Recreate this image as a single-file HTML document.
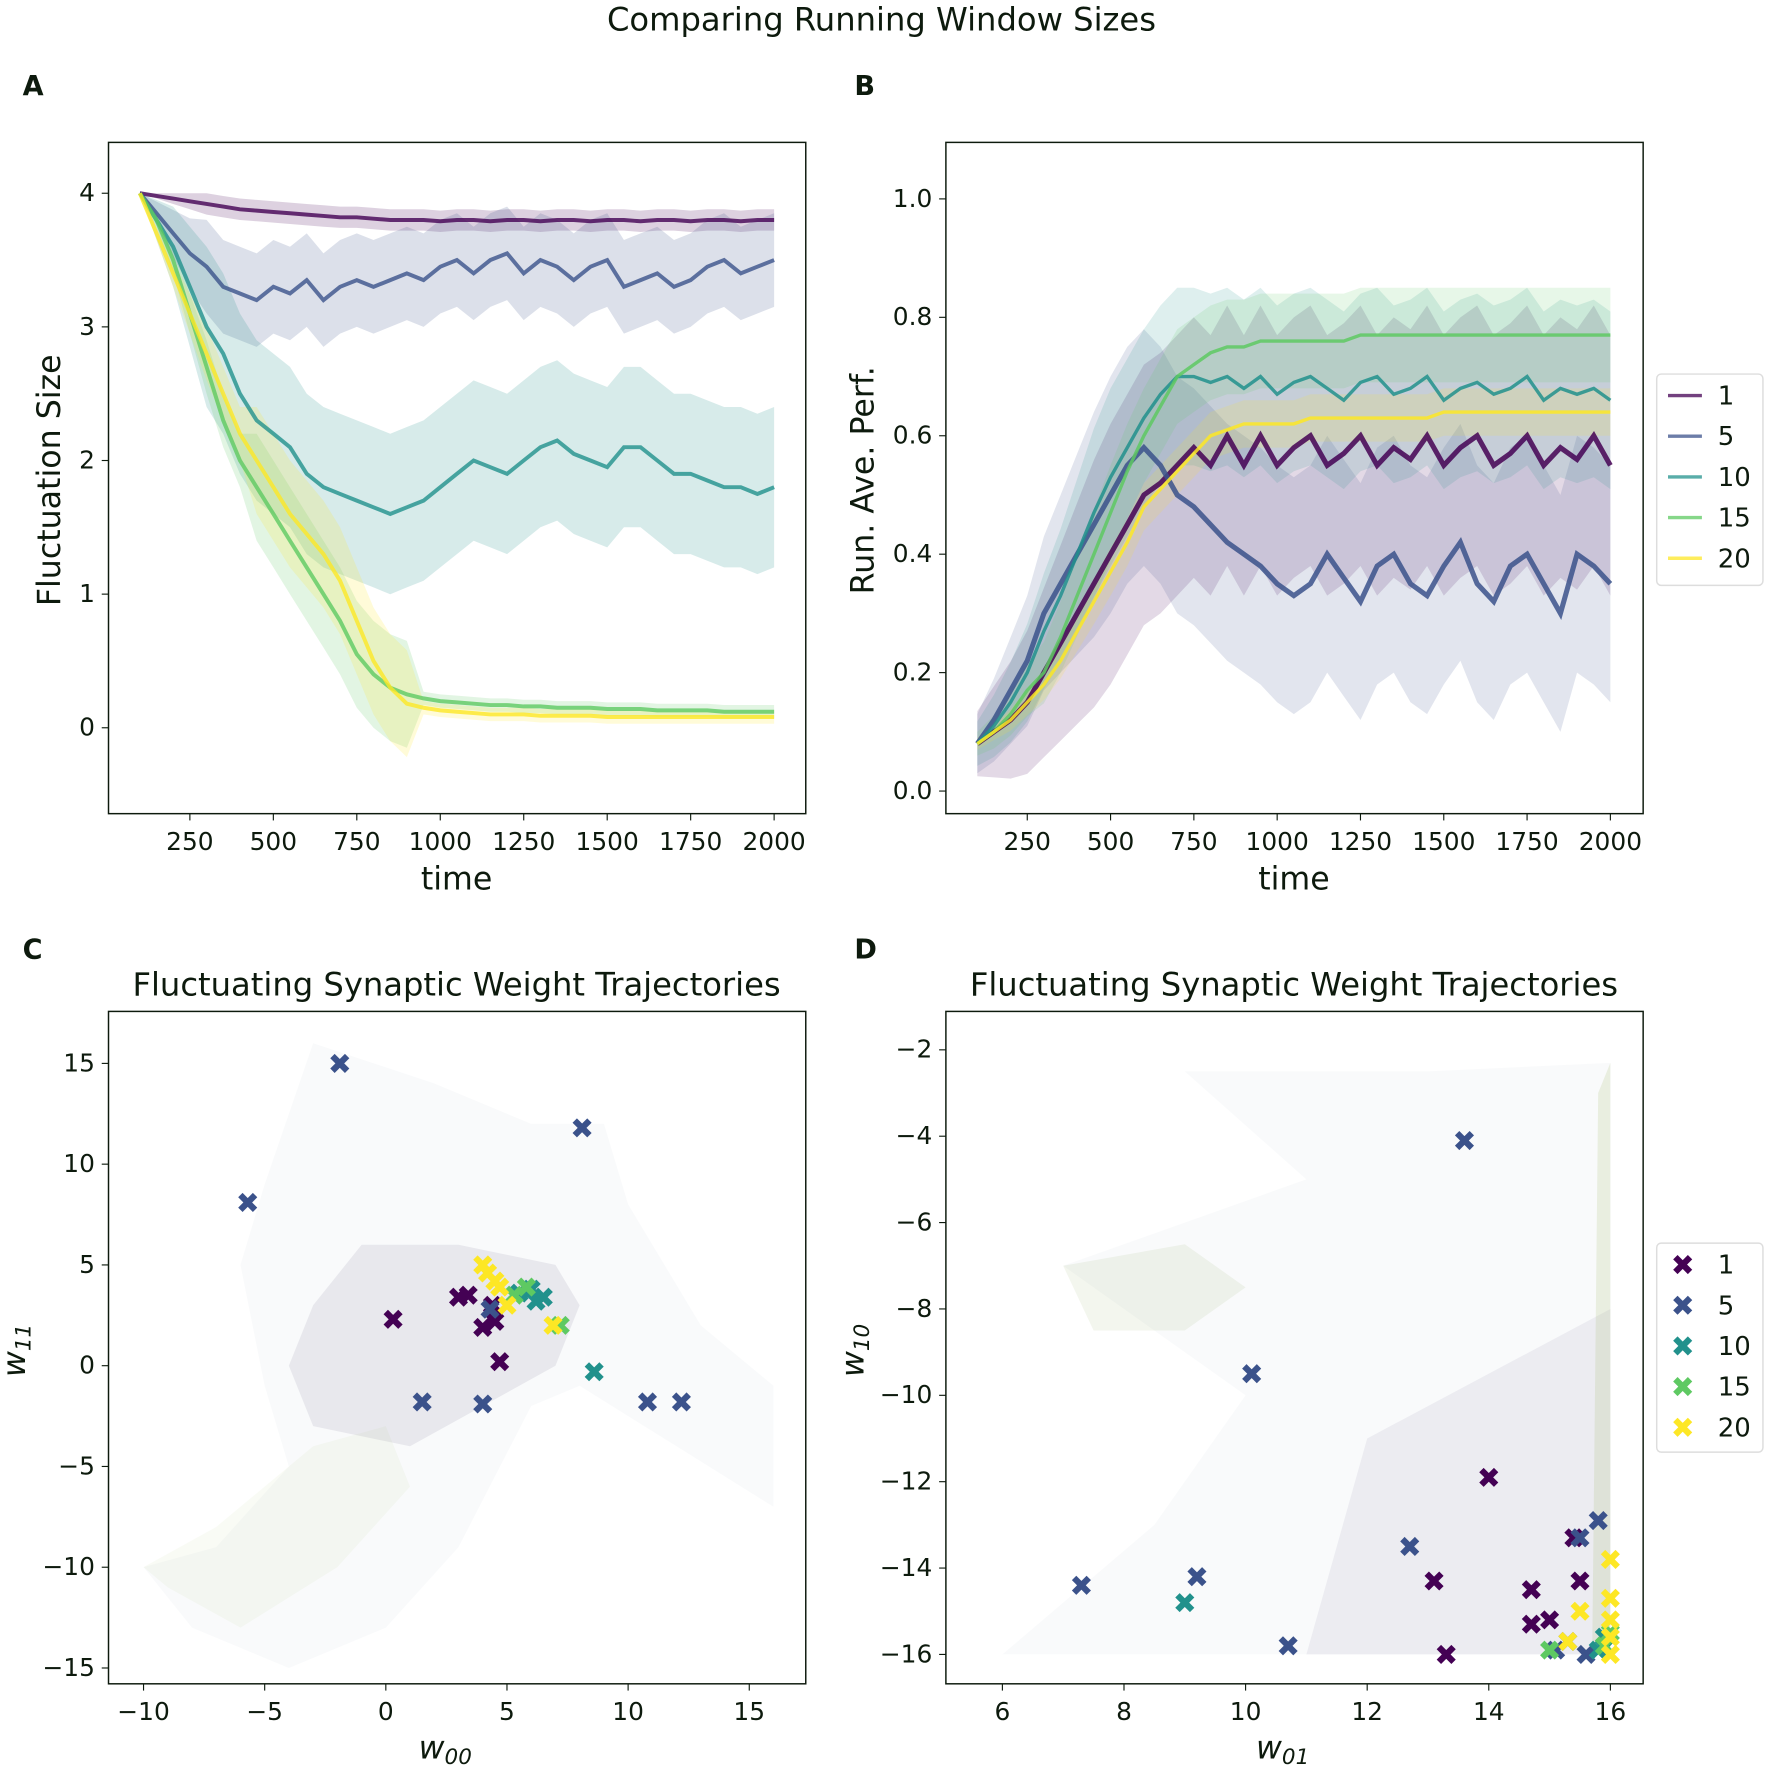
<!DOCTYPE html>
<html><head><meta charset="utf-8"><style>
html,body{margin:0;padding:0;background:#fff;width:1772px;height:1768px;overflow:hidden}
svg{display:block}
text{font-family:"DejaVu Sans","Liberation Sans",sans-serif;fill:#0d1a0d}
</style></head><body>
<svg id="fig" width="1772" height="1768" viewBox="0 0 1568 1564.5" xmlns="http://www.w3.org/2000/svg"></svg>
<script>
// ---------- data ----------
const times = [];
for (let t = 100; t <= 2000; t += 50) times.push(t);
const seriesNames = ["1","5","10","15","20"];
const colors = ["#440154","#3b528b","#21918c","#5ec962","#fde725"];

const fluct1 = [4.0,3.98,3.96,3.94,3.92,3.9,3.88,3.87,3.86,3.85,3.84,3.83,3.82,3.82,3.81,3.8,3.8,3.8,3.79,3.8,3.8,3.79,3.8,3.8,3.79,3.8,3.8,3.79,3.8,3.8,3.79,3.8,3.8,3.79,3.8,3.8,3.79,3.8,3.8];
const fluct5 = [4.0,3.85,3.7,3.55,3.45,3.3,3.25,3.2,3.3,3.25,3.35,3.2,3.3,3.35,3.3,3.35,3.4,3.35,3.45,3.5,3.4,3.5,3.55,3.4,3.5,3.45,3.35,3.45,3.5,3.3,3.35,3.4,3.3,3.35,3.45,3.5,3.4,3.45,3.5];
const fluct10 = [4.0,3.8,3.6,3.3,3.0,2.8,2.5,2.3,2.2,2.1,1.9,1.8,1.75,1.7,1.65,1.6,1.65,1.7,1.8,1.9,2.0,1.95,1.9,2.0,2.1,2.15,2.05,2.0,1.95,2.1,2.1,2.0,1.9,1.9,1.85,1.8,1.8,1.75,1.8];
const fluct15 = [4.0,3.8,3.5,3.1,2.7,2.3,2.0,1.8,1.6,1.4,1.2,1.0,0.8,0.55,0.4,0.3,0.25,0.22,0.2,0.19,0.18,0.17,0.17,0.16,0.16,0.15,0.15,0.15,0.14,0.14,0.14,0.13,0.13,0.13,0.13,0.12,0.12,0.12,0.12];
const fluct20 = [4.0,3.7,3.4,3.1,2.8,2.5,2.2,2.0,1.8,1.6,1.45,1.3,1.1,0.8,0.5,0.3,0.18,0.15,0.13,0.12,0.11,0.1,0.1,0.1,0.09,0.09,0.09,0.09,0.08,0.08,0.08,0.08,0.08,0.08,0.08,0.08,0.08,0.08,0.08];
const fluctSpread = [0.08,0.35,0.6,0.35,0.35];

const perf1 = [0.08,0.1,0.12,0.15,0.2,0.25,0.3,0.35,0.4,0.45,0.5,0.52,0.55,0.58,0.55,0.6,0.55,0.6,0.55,0.58,0.6,0.55,0.57,0.6,0.55,0.58,0.56,0.6,0.55,0.58,0.6,0.55,0.57,0.6,0.55,0.58,0.56,0.6,0.55];
const perf5 = [0.08,0.12,0.17,0.22,0.3,0.35,0.4,0.45,0.5,0.55,0.58,0.55,0.5,0.48,0.45,0.42,0.4,0.38,0.35,0.33,0.35,0.4,0.36,0.32,0.38,0.4,0.35,0.33,0.38,0.42,0.35,0.32,0.38,0.4,0.35,0.3,0.4,0.38,0.35];
const perf10 = [0.08,0.11,0.15,0.2,0.27,0.33,0.4,0.47,0.53,0.58,0.63,0.67,0.7,0.7,0.69,0.7,0.68,0.7,0.67,0.69,0.7,0.68,0.66,0.69,0.7,0.67,0.68,0.7,0.66,0.68,0.69,0.67,0.68,0.7,0.66,0.68,0.67,0.68,0.66];
const perf15 = [0.08,0.1,0.13,0.17,0.2,0.26,0.33,0.4,0.47,0.54,0.6,0.65,0.7,0.72,0.74,0.75,0.75,0.76,0.76,0.76,0.76,0.76,0.76,0.77,0.77,0.77,0.77,0.77,0.77,0.77,0.77,0.77,0.77,0.77,0.77,0.77,0.77,0.77,0.77];
const perf20 = [0.08,0.1,0.12,0.15,0.18,0.22,0.27,0.32,0.37,0.42,0.48,0.51,0.54,0.57,0.6,0.61,0.62,0.62,0.62,0.62,0.63,0.63,0.63,0.63,0.63,0.63,0.63,0.63,0.64,0.64,0.64,0.64,0.64,0.64,0.64,0.64,0.64,0.64,0.64];
const perfSpread = [0.22,0.2,0.15,0.08,0.04];

const xTicksA = [250,500,750,1000,1250,1500,1750,2000];
const yTicksA = [0,1,2,3,4];
const yTicksB = [0.0,0.2,0.4,0.6,0.8,1.0];
const xTicksC = [-10,-5,0,5,10,15];
const yTicksC = [-15,-10,-5,0,5,10,15];
const xTicksD = [6,8,10,12,14,16];
const yTicksD = [-16,-14,-12,-10,-8,-6,-4,-2];

const cX1 = [0.3,3.0,3.4,4.0,4.5,4.7,4.4];
const cY1 = [2.3,3.4,3.5,1.9,2.2,0.2,3.0];
const cX5 = [-1.9,8.1,-5.7,1.5,4.0,10.8,12.2,4.3];
const cY5 = [15,11.8,8.1,-1.8,-1.9,-1.8,-1.8,2.8];
const cX10 = [8.6,6.5,6.0,5.5,6.2];
const cY10 = [-0.3,3.4,3.8,3.6,3.2];
const cX15 = [7.2,5.3,5.8];
const cY15 = [2.0,3.5,3.9];
const cX20 = [4.0,4.2,6.9,4.5,5.0,4.7];
const cY20 = [5.0,4.6,2.0,4.2,3.0,3.9];

const dX1 = [14.0,13.1,13.3,14.7,14.7,15.0,15.5,15.4];
const dY1 = [-11.9,-14.3,-16,-14.5,-15.3,-15.2,-14.3,-13.3];
const dX5 = [13.6,10.1,7.3,9.2,10.7,12.7,15.3,15.1,15.6,15.5,15.8];
const dY5 = [-4.1,-9.5,-14.4,-14.2,-15.8,-13.5,-15.7,-15.9,-16,-13.3,-12.9];
const dX10 = [9.0,15.8,15.9];
const dY10 = [-14.8,-15.9,-15.6];
const dX15 = [15.0,15.9,16];
const dY15 = [-15.9,-15.8,-15.5];
const dX20 = [16,16,16,16,16,15.5,15.3];
const dY20 = [-13.8,-14.7,-15.2,-15.6,-16,-15.0,-15.7];

// ---------- drawing ----------
const NS = "http://www.w3.org/2000/svg";
const svg = document.getElementById("fig");
function mk(tag, attrs, parent) {
  const e = document.createElementNS(NS, tag);
  for (const k in attrs) e.setAttribute(k, attrs[k]);
  (parent || svg).appendChild(e);
  return e;
}
function txt(s, x, y, size, anchor, parent, extra) {
  const t = mk("text", Object.assign({x: x, y: y, "font-size": size, "text-anchor": anchor || "middle"}, extra || {}), parent);
  t.textContent = s;
  return t;
}
function lin(d0, d1, p0, p1) { return v => p0 + (v - d0) * (p1 - p0) / (d1 - d0); }

function axesBox(g, L, T, R, B) {
  const r = mk("rect", {x: L, y: T, width: R - L, height: B - T, fill: "none", stroke: "#0d1a0d", "stroke-width": 1.3}, g);
  
  
}
function xTicks(g, ticks, sx, B, fmt) {
  ticks.forEach(v => {
    mk("line", {x1: sx(v), x2: sx(v), y1: B, y2: B + 6, stroke: "#0d1a0d", "stroke-width": 1}, g);
    const t = txt(fmt ? fmt(v) : String(v).replace("-", "\u2212"), sx(v), B + 32, 22, "middle", g);
    
    
  });
}
function yTicks(g, ticks, sy, L, fmt) {
  ticks.forEach(v => {
    mk("line", {x1: L - 6, x2: L, y1: sy(v), y2: sy(v), stroke: "#0d1a0d", "stroke-width": 1}, g);
    const t = txt(fmt ? fmt(v) : String(v).replace("-", "\u2212"), L - 12, sy(v) + 7, 22, "end", g);
    
    
  });
}
function linePath(xs, ys, sx, sy) {
  return xs.map((x, i) => (i ? "L" : "M") + sx(x).toFixed(1) + "," + sy(ys[i]).toFixed(1)).join("");
}
function bandPath(xs, lo, hi, sx, sy) {
  let d = xs.map((x, i) => (i ? "L" : "M") + sx(x).toFixed(1) + "," + sy(hi[i]).toFixed(1)).join("");
  for (let i = xs.length - 1; i >= 0; i--) d += "L" + sx(xs[i]).toFixed(1) + "," + sy(lo[i]).toFixed(1);
  return d + "Z";
}
function xMarker(g, x, y, color) {
  const s = 6.5;
  return mk("path", {d: `M${x-s},${y-s}L${x+s},${y+s}M${x-s},${y+s}L${x+s},${y-s}`, stroke: color, "stroke-width": 5.5}, g);
}

// title
const title = txt("Comparing Running Window Sizes", 780, 27, 28.5, "middle");


[["A",20,84],["B",756,84],["C",20,848],["D",756,848]].forEach(a => {
  const t = txt(a[0], a[1], a[2], 24, "start", svg, {"font-weight": "bold"});
  
  
});

// Panel A
(function () {
  const g = mk("g", {});
  
  
  const L = 96, R = 713, T = 126, B = 720;
  const sx = lin(250, 2000, 168, 685), sy = lin(0, 4, 644, 171);
  const data = [fluct1, fluct5, fluct10, fluct15, fluct20];
  data.forEach((ys, k) => {
    const spAt = i => {
      let s = fluctSpread[k] * Math.min(1, i / 4);
      if (k >= 3) { const t = times[i]; s = (t >= 450 && t <= 900) ? 0.4 : (t > 900 ? 0.05 : 0.2 * Math.min(1, i / 4)); }
      return s;
    };
    const lo = ys.map((v, i) => v - spAt(i));
    const hi = ys.map((v, i) => v + spAt(i));
    const b = mk("path", {d: bandPath(times, lo, hi, sx, sy), fill: colors[k], "fill-opacity": 0.18, stroke: "none"}, g);
    
    
  });
  data.forEach((ys, k) => {
    const p = mk("path", {d: linePath(times, ys, sx, sy), fill: "none", stroke: colors[k], "stroke-width": 3.5, "stroke-opacity": 0.8}, g);
    
    
  });
  axesBox(g, L, T, R, B);
  xTicks(g, xTicksA, sx, B);
  yTicks(g, yTicksA, sy, L);
  const xl = txt("time", 404, 787, 28, "middle", g);
  
  
  const yl = txt("Fluctuation Size", 0, 0, 28, "middle", g, {transform: "translate(53,425) rotate(-90)"});
  
  
})();

// Panel B
(function () {
  const g = mk("g", {});
  
  
  const L = 837, R = 1454, T = 126, B = 720;
  const sx = lin(250, 2000, 909, 1425), sy = lin(0, 1, 700, 176);
  const data = [perf1, perf5, perf10, perf15, perf20];
  data.forEach((ys, k) => {
    const sp = perfSpread[k];
    const lo = ys.map((v, i) => v - sp * Math.min(1, 0.25 + i / 10));
    const hi = ys.map((v, i) => v + sp * Math.min(1, 0.25 + i / 10));
    const b = mk("path", {d: bandPath(times, lo, hi, sx, sy), fill: colors[k], "fill-opacity": 0.15, stroke: "none"}, g);
    
    
  });
  data.forEach((ys, k) => {
    const p = mk("path", {d: linePath(times, ys, sx, sy), fill: "none", stroke: colors[k], "stroke-width": k < 2 ? 4.5 : 3, "stroke-opacity": 0.85}, g);
    
    
  });
  axesBox(g, L, T, R, B);
  xTicks(g, xTicksA, sx, B);
  yTicks(g, yTicksB, sy, L, v => v.toFixed(1));
  const xl = txt("time", 1145, 787, 28, "middle", g);
  
  
  const yl = txt("Run. Ave. Perf.", 0, 0, 28, "middle", g, {transform: "translate(773,425) rotate(-90)"});
  
  
  const lg = mk("g", {}, g);
  
  
  mk("rect", {x: 1466, y: 331, width: 94, height: 187, rx: 4, fill: "#fff", stroke: "#ddd", "stroke-width": 1.3}, lg);
  seriesNames.forEach((n, k) => {
    const y = 350 + k * 36;
    const e = mk("g", {}, lg);
    
    
    mk("line", {x1: 1476, x2: 1506, y1: y, y2: y, stroke: colors[k], "stroke-width": 3, "stroke-opacity": 0.75}, e);
    txt(n, 1520, y + 8, 23, "start", e);
  });
})();

function cloud(g, sx, sy, pts, color, op) {
  const d = pts.map((p, i) => (i ? "L" : "M") + sx(p[0]).toFixed(1) + "," + sy(p[1]).toFixed(1)).join("") + "Z";
  mk("path", {d: d, fill: color, "fill-opacity": op, stroke: "none"}, g);
}

// Panel C
(function () {
  const g = mk("g", {});
  
  
  const L = 96, R = 713, T = 895, B = 1490;
  const sx = lin(-10, 15, 127, 663), sy = lin(-15, 15, 1476, 941);
  const cg = mk("g", {}, g);
  
  
  cloud(cg, sx, sy, [[-3,16],[2,14],[6,12],[9,12],[10,8],[13,2],[16,-1],[16,-7],[12,-4],[8,-1],[6,-2],[3,-9],[0,-13],[-4,-15],[-8,-13],[-10,-10],[-7,-9],[-4,-5],[-5,-1],[-6,5],[-5,9]], "#9098b0", 0.05);
  cloud(cg, sx, sy, [[-1,6],[3,6],[7,5],[8,3],[7,0],[4,-2],[1,-4],[-3,-3],[-4,0],[-3,3]], "#5a4a7a", 0.1);
  cloud(cg, sx, sy, [[-10,-10],[-7,-8],[-3,-4],[0,-3],[1,-6],[-2,-10],[-6,-13],[-9,-11]], "#a8c078", 0.07);
  axesBox(g, L, T, R, B);
  xTicks(g, xTicksC, sx, B);
  yTicks(g, yTicksC, sy, L);
  const xs = [cX1, cX5, cX10, cX15, cX20], ys = [cY1, cY5, cY10, cY15, cY20];
  xs.forEach((arr, k) => arr.forEach((x, i) => {
    const m = xMarker(g, sx(x), sy(ys[k][i]), colors[k]);
    
    
  }));
  const t = txt("Fluctuating Synaptic Weight Trajectories", 404, 881, 28.5, "middle", g);
  
  
  const xl = txt("w", 394, 1556, 28, "middle", g, {"font-style": "italic"});
  
  
  const xs1 = mk("tspan", {"font-size": 19, dy: 5}, xl); xs1.textContent = "00";
  const yl = txt("w", 0, 0, 28, "middle", g, {transform: "translate(22,1195) rotate(-90)", "font-style": "italic"});
  
  
  const ys1 = mk("tspan", {"font-size": 19, dy: 5}, yl); ys1.textContent = "11";
})();

// Panel D
(function () {
  const g = mk("g", {});
  
  
  const L = 837, R = 1454, T = 895, B = 1490;
  const sx = lin(6, 16, 887, 1425), sy = lin(-2, -16, 929, 1464);
  const cg = mk("g", {}, g);
  
  
  cloud(cg, sx, sy, [[9,-2.5],[13,-2.5],[16,-2.3],[16,-16],[6,-16],[8.5,-13],[10,-10],[7,-7],[9,-6],[11,-5]], "#9098b0", 0.05);
  cloud(cg, sx, sy, [[7,-7],[9,-6.5],[10,-7.5],[9,-8.5],[7.5,-8.5]], "#a0b870", 0.12);
  cloud(cg, sx, sy, [[12,-11],[16,-8],[16,-16],[11,-16]], "#5a4a7a", 0.08);
  cloud(cg, sx, sy, [[15.8,-3],[16,-2.3],[16,-16],[15.7,-16]], "#a8c078", 0.2);
  axesBox(g, L, T, R, B);
  xTicks(g, xTicksD, sx, B);
  yTicks(g, yTicksD, sy, L);
  const xs = [dX1, dX5, dX10, dX15, dX20], ys = [dY1, dY5, dY10, dY15, dY20];
  xs.forEach((arr, k) => arr.forEach((x, i) => {
    const m = xMarker(g, sx(x), sy(ys[k][i]), colors[k]);
    
    
  }));
  const t = txt("Fluctuating Synaptic Weight Trajectories", 1145, 881, 28.5, "middle", g);
  
  
  const xl = txt("w", 1135, 1556, 28, "middle", g, {"font-style": "italic"});
  
  
  const xs1 = mk("tspan", {"font-size": 19, dy: 5}, xl); xs1.textContent = "01";
  const yl = txt("w", 0, 0, 28, "middle", g, {transform: "translate(764,1195) rotate(-90)", "font-style": "italic"});
  
  
  const ys1 = mk("tspan", {"font-size": 19, dy: 5}, yl); ys1.textContent = "10";
  const lg = mk("g", {}, g);
  
  
  mk("rect", {x: 1466, y: 1100, width: 94, height: 185, rx: 4, fill: "#fff", stroke: "#ddd", "stroke-width": 1.3}, lg);
  seriesNames.forEach((n, k) => {
    const y = 1119 + k * 36;
    const e = mk("g", {}, lg);
    
    
    xMarker(e, 1489, y, colors[k]);
    txt(n, 1520, y + 8, 23, "start", e);
  });
})();
</script>
</body></html>
